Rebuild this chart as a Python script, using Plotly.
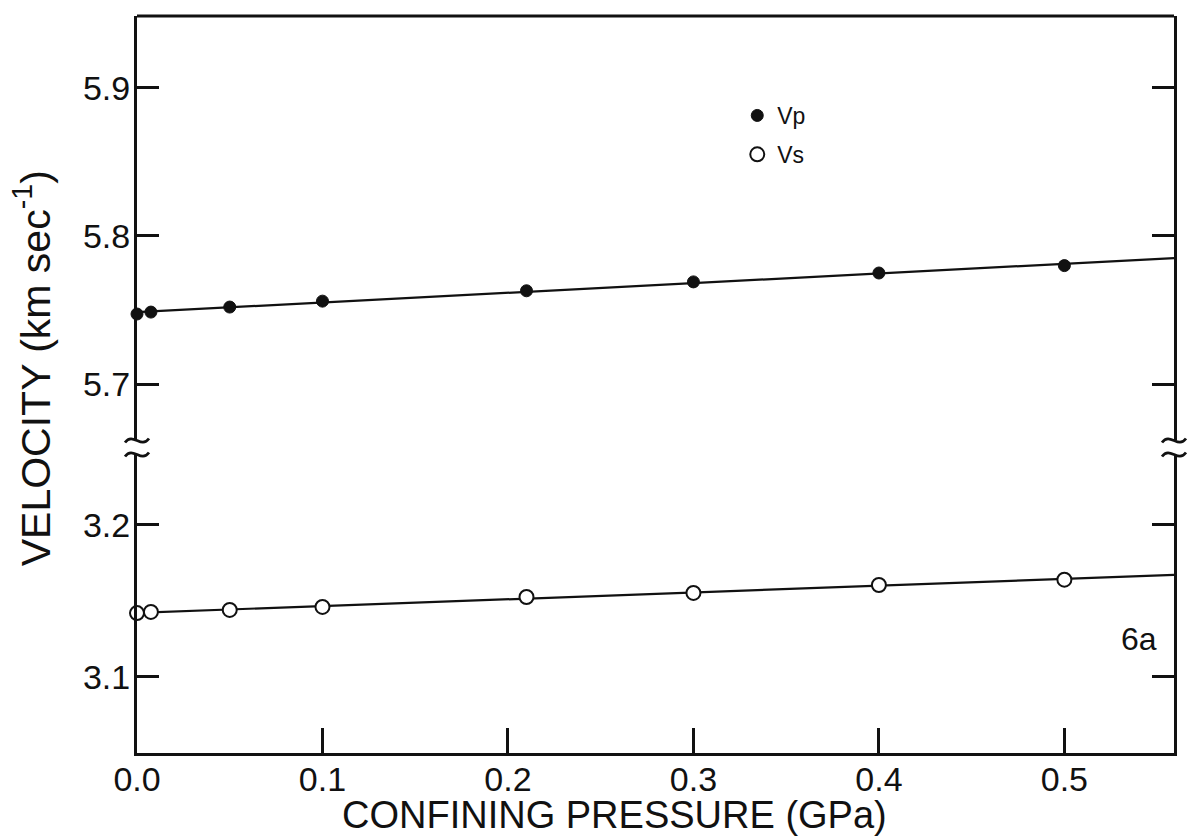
import numpy as np
import plotly.graph_objects as go

# ---- data ----
pressure = [0.0, 0.0075, 0.05, 0.1, 0.21, 0.3, 0.4, 0.5]          # GPa
vp = [5.7473, 5.7486, 5.752, 5.756, 5.763, 5.769, 5.775, 5.780]     # km/s
vs = [3.142, 3.1428, 3.1441, 3.1461, 3.1526, 3.1553, 3.1605, 3.164]  # km/s
x_ticks = [0.0, 0.1, 0.2, 0.3, 0.4, 0.5]
vp_ticks = [5.7, 5.8, 5.9]
vs_ticks = [3.1, 3.2]

x_range = [0, 0.5591]
vp_range = [5.6622, 5.9486]
vs_range = [3.05, 3.246]

# linear fits drawn across the whole pressure range
fit_x = np.array(x_range)
vp_fit = np.polyval(np.polyfit(pressure, vp, 1), fit_x)
vs_fit = np.polyval(np.polyfit(pressure, vs, 1), fit_x)

FONT = "Liberation Sans, Arial, Helvetica, sans-serif"
BLACK = "#111111"

fig = go.Figure()
fig.add_trace(go.Scatter(x=fit_x, y=vp_fit, mode="lines", yaxis="y2",
                         line=dict(color=BLACK, width=2.2), showlegend=False, hoverinfo="skip"))
fig.add_trace(go.Scatter(x=fit_x, y=vs_fit, mode="lines", yaxis="y",
                         line=dict(color=BLACK, width=2.2), showlegend=False, hoverinfo="skip"))
fig.add_trace(go.Scatter(x=pressure, y=vp, mode="markers", yaxis="y2", name="Vp",
                         legendgroup="vp", cliponaxis=False,
                         marker=dict(symbol="circle", size=12, color=BLACK,
                                     line=dict(color=BLACK, width=1))))
fig.add_trace(go.Scatter(x=pressure, y=vs, mode="markers", yaxis="y", name="Vs",
                         legendgroup="vs", cliponaxis=False,
                         marker=dict(symbol="circle", size=14, color="white",
                                     line=dict(color=BLACK, width=2))))

W, H = 1188, 836
L, R, T, B = 137, 11, 16, 83
ph = H - T - B
pw = W - L - R

def py(pix):   # pixel row -> paper fraction
    return (H - B - pix) / ph

def px(pix):   # pixel column -> paper fraction
    return (pix - L) / pw

axis_common = dict(showline=True, linecolor=BLACK, linewidth=3, ticks="inside",
                   tickcolor=BLACK, tickwidth=2.5, showgrid=False, zeroline=False,
                   tickfont=dict(family=FONT, size=34, color=BLACK))

fig.update_layout(
    width=W, height=H, margin=dict(l=L, r=R, t=T, b=B),
    paper_bgcolor="white", plot_bgcolor="white",
    xaxis=dict(range=x_range, tickvals=x_ticks, tickformat=".1f", ticklen=25,
               mirror=False, anchor="y", ticklabelstandoff=-6, **axis_common),
    yaxis=dict(range=vs_range, domain=[0, py(455)], tickvals=vs_ticks, tickformat=".1f",
               ticklen=22, mirror="ticks", anchor="x", ticklabelstandoff=-3, **axis_common),
    yaxis2=dict(range=vp_range, domain=[py(440), 1], tickvals=vp_ticks, tickformat=".1f",
                ticklen=22, mirror="ticks", anchor="x", ticklabelstandoff=-3, **axis_common),
    showlegend=True,
    legend=dict(x=px(739), y=py(94), xanchor="left", yanchor="top",
                font=dict(family=FONT, size=23, color=BLACK),
                bgcolor="rgba(0,0,0,0)", tracegroupgap=6, itemwidth=30),
)

# top frame line
fig.add_shape(type="line", xref="paper", yref="paper", x0=0, x1=1, y0=1, y1=1,
              line=dict(color=BLACK, width=3))

# axis break symbols on both sides
yb = py(447.5)
for xa in (0, 1):
    for c in (7, -7):
        path = f"M -12,{c-2} C -4,{c+9} 4,{c-9} 12,{c+2}"
        fig.add_shape(type="path", xref="paper", yref="paper",
                      xsizemode="pixel", ysizemode="pixel", xanchor=xa, yanchor=yb,
                      path=path, line=dict(color=BLACK, width=2.8))

# axis titles and panel label
fig.add_annotation(text="CONFINING PRESSURE (GPa)", xref="paper", yref="paper",
                   x=px(616), y=py(815), xanchor="center", yanchor="middle", showarrow=False,
                   font=dict(family=FONT, size=38, color=BLACK))
fig.add_annotation(text="VELOCITY (km sec<sup>-1</sup>)", xref="paper", yref="paper",
                   x=px(32), y=py(368), xanchor="center", yanchor="middle", showarrow=False,
                   textangle=-90, font=dict(family=FONT, size=41, color=BLACK))
fig.add_annotation(text="6a", xref="paper", yref="paper",
                   x=px(1142), y=py(639), xanchor="center", yanchor="middle", showarrow=False,
                   font=dict(family=FONT, size=32, color=BLACK))

fig.write_html("out.html")
